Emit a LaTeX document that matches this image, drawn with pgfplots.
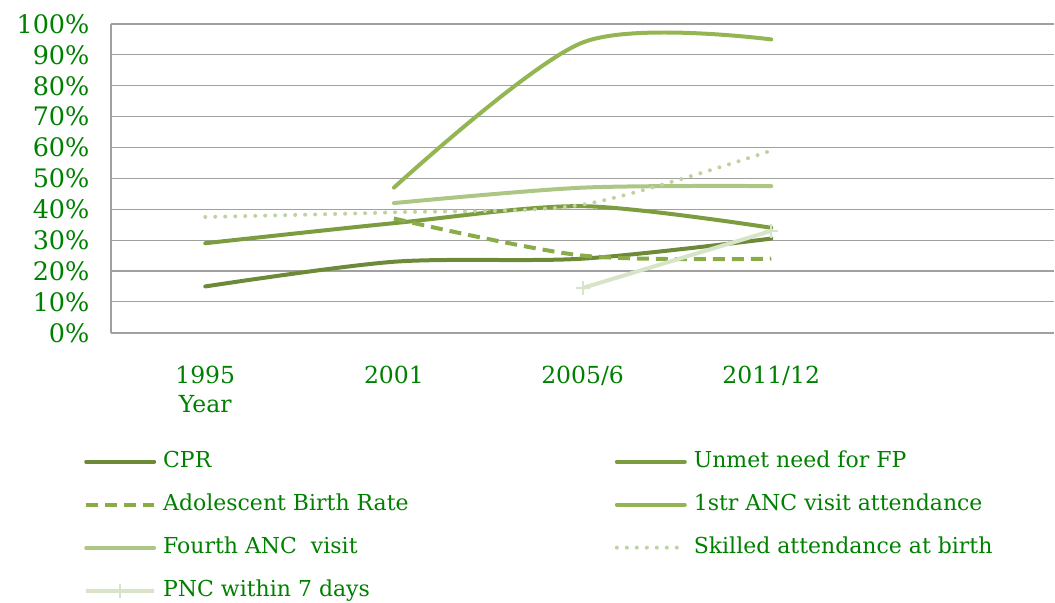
\documentclass[border=0pt]{standalone}
\usepackage{pgfplots}
\pgfplotsset{compat=1.18}
\usepackage{fontspec}
\setmainfont{DejaVu Serif}
\definecolor{txt}{RGB}{0,128,0}
\definecolor{cCPR}{RGB}{108,138,55}
\definecolor{cUnmet}{RGB}{124,156,64}
\definecolor{cAdol}{RGB}{137,172,73}
\definecolor{cANC}{RGB}{148,182,82}
\definecolor{cFourth}{RGB}{172,199,132}
\definecolor{cSkilled}{RGB}{190,210,162}
\definecolor{cPNC}{RGB}{215,228,200}
\definecolor{gridc}{RGB}{160,160,160}
\begin{document}
\begin{tikzpicture}
\begin{axis}[
  name=ax,
  scale only axis,
  width=944pt, height=309pt,
  xmin=-0.5, xmax=4.5,
  ymin=0, ymax=100,
  xtick={0,1,2,3},
  xticklabels={{1995\\Year},2001,2005/6,2011/12},
  ytick={0,10,...,100},
  yticklabels={0\%,10\%,20\%,30\%,40\%,50\%,60\%,70\%,80\%,90\%,100\%},
  xticklabel style={align=center, text=txt, font=\fontsize{23.5}{29}\selectfont, yshift=-30pt},
  yticklabel style={text=txt, font=\fontsize{25.5}{28}\selectfont, xshift=-18pt},
  major tick length=0pt,
  axis lines*=left,
  axis line style={gridc, line width=1.5pt, -},
  ymajorgrids,
  major grid style={gridc, line width=1.2pt},
  clip=false,
  legend columns=2,
  legend cell align=left,
  legend style={at={(-0.0285,-0.383)}, anchor=north west, draw=none, fill=none,
    inner sep=0pt, font=\fontsize{22}{26}\selectfont, text=txt,
    nodes={inner sep=0pt, text height=16pt, text depth=5pt},
    row sep=22pt,
    /tikz/every odd column/.append style={column sep=7pt},
    /tikz/every even column/.append style={column sep=0pt}},
  legend image code/.code={\draw[mark repeat=2,mark phase=2,#1] plot coordinates {(0pt,0pt) (34pt,0pt) (68pt,0pt)};},
]
\addplot[cCPR, line width=4pt, smooth, line cap=round] coordinates {(0,15) (1,23) (2,24) (3,30.5)};
\addlegendentry{\makebox[452pt][l]{CPR}}
\addplot[cUnmet, line width=4pt, smooth, line cap=round] coordinates {(0,29) (1,35.5) (2,41) (3,34)};
\addlegendentry{Unmet need for FP}
\addplot[cAdol, line width=4pt, smooth, dash pattern=on 12pt off 7pt] coordinates {(1,37) (2,25) (3,24)};
\addlegendentry{\makebox[452pt][l]{Adolescent Birth Rate}}
\addplot[cANC, line width=4pt, smooth, line cap=round] coordinates {(1,47) (2,94) (3,95)};
\addlegendentry{1str ANC visit attendance}
\addplot[cFourth, line width=4pt, smooth, line cap=round] coordinates {(1,42) (2,47) (3,47.5)};
\addlegendentry{\makebox[452pt][l]{Fourth ANC\ \ visit}}
\addplot[cSkilled, line width=4pt, smooth, line cap=round, dash pattern=on 0pt off 10pt] coordinates {(0,37.5) (1,39) (2,41.5) (3,59)};
\addlegendentry{Skilled attendance at birth}
\addplot[cPNC, line width=4pt, mark=+, mark size=7pt, mark options={solid, line width=2pt}] coordinates {(2,14.5) (3,33)};
\addlegendentry{\makebox[452pt][l]{PNC within 7 days}}
\end{axis}
\path (ax.south west) ++(-111pt,-270pt) coordinate (bl);
\path (ax.north east) ++(0pt,24pt) coordinate (tr);
\path (bl) rectangle (tr);
\end{tikzpicture}
\end{document}
